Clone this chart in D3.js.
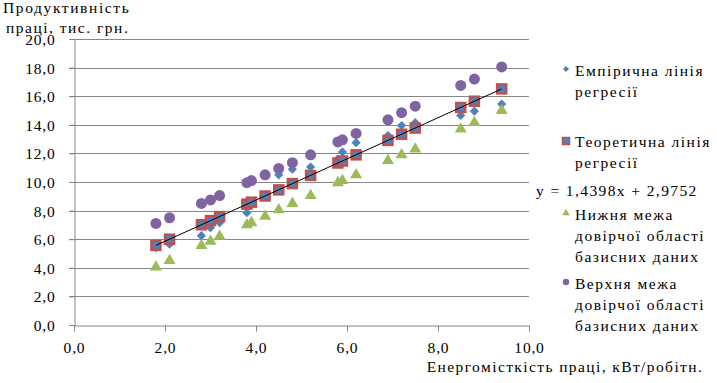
<!DOCTYPE html>
<html>
<head>
<meta charset="utf-8">
<script src="https://cdn.jsdelivr.net/npm/d3@7"></script>
<style>
  body { margin: 0; background: #fff; }
</style>
</head>
<body>
<svg id="chart" width="717" height="383"></svg>
<script>
// energy intensity (x) and the four series
var xValues = [1.8, 2.1, 2.8, 3.0, 3.2, 3.8, 3.9, 4.2, 4.5, 4.8, 5.2, 5.8, 5.9, 6.2, 6.9, 7.2, 7.5, 8.5, 8.8, 9.4];
var empirical = [5.4, 5.65, 6.25, 6.8, 7.15, 7.85, 8.6, 9.1, 10.5, 10.9, 11.05, 11.6, 12.1, 12.75, 13.25, 13.95, 14.15, 14.65, 14.95, 15.45];
var theoretical = [5.57, 6.0, 7.01, 7.3, 7.58, 8.45, 8.59, 9.02, 9.45, 9.89, 10.46, 11.33, 11.47, 11.9, 12.91, 13.34, 13.77, 15.21, 15.65, 16.51];
var lowerBound = [4.05, 4.5, 5.55, 5.85, 6.2, 7.0, 7.15, 7.6, 8.05, 8.5, 9.05, 9.95, 10.1, 10.5, 11.5, 11.9, 12.3, 13.7, 14.15, 15.0];
var upperBound = [7.1, 7.5, 8.5, 8.75, 9.05, 9.95, 10.1, 10.5, 10.95, 11.35, 11.9, 12.8, 12.95, 13.4, 14.35, 14.85, 15.3, 16.75, 17.2, 18.05];

var xTicks = [0, 2, 4, 6, 8, 10];
var yTicks = [0, 2, 4, 6, 8, 10, 12, 14, 16, 18, 20];
var equationLabel = "y = 1,4398x + 2,9752";

var FONT = "'Liberation Serif', 'Times New Roman', serif";

var svg = d3.select("#chart");

var x = d3.scaleLinear().domain([0, 10]).range([74, 529]);
var y = d3.scaleLinear().domain([0, 20]).range([325, 39]);
var fmt = function(d) { return d3.format(".1f")(d).replace(".", ","); };

function label(sel, size, spacing) {
  return sel.attr("font-family", FONT)
    .style("font-family", FONT)
    .style("font-size", size + "px")
    .style("letter-spacing", spacing + "px")
    .attr("fill", "#000");
}

/////////////
// grid + axes
/////////////
var gridColor = "#878787";

svg.append("g").selectAll("line")
  .data(yTicks.filter(function(d) { return d > 0; }))
  .enter().append("line")
  .attr("x1", 69).attr("x2", 529)
  .attr("y1", function(d) { return Math.round(y(d)) + 0.5; })
  .attr("y2", function(d) { return Math.round(y(d)) + 0.5; })
  .attr("stroke", gridColor).attr("stroke-width", 1);

var yAxis = svg.append("g")
  .attr("transform", "translate(" + (x(0) + 0.5) + ",0)")
  .call(d3.axisLeft(y).tickValues(yTicks).tickSize(5).tickFormat(fmt));
var xAxis = svg.append("g")
  .attr("transform", "translate(0," + (Math.round(y(0)) + 0.5) + ")")
  .call(d3.axisBottom(x).tickValues(xTicks).tickSize(6).tickFormat(fmt));

[xAxis, yAxis].forEach(function(ax) {
  ax.attr("font-family", FONT);
  ax.select(".domain").attr("stroke", gridColor);
  ax.selectAll(".tick line").attr("stroke", gridColor);
  label(ax.selectAll("text"), 15.5, 0.8);
});
yAxis.selectAll("text").attr("x", -19).attr("dy", "0.35em");
xAxis.selectAll("text").attr("y", 16).attr("dy", "0.71em");

// axis titles
label(svg.append("text").attr("x", 3).attr("y", 13), 15.5, 1.6)
  .text("Продуктивність");
label(svg.append("text").attr("x", 6).attr("y", 33), 15.5, 1.5)
  .text("праці, тис. грн.");
label(svg.append("text").attr("x", 565).attr("y", 372).attr("text-anchor", "middle"), 15.5, 1.4)
  .text("Енергомісткість праці, кВт/робітн.");

/////////////
// series
/////////////
var pts = function(vals) {
  return vals.map(function(v, i) { return { x: xValues[i], y: v }; });
};

svg.append("g").selectAll("path")
  .data(pts(empirical)).enter().append("path")
  .attr("d", d3.symbol().type(d3.symbolDiamond2).size(54))
  .attr("transform", function(d) { return "translate(" + x(d.x) + "," + y(d.y) + ")"; })
  .attr("fill", "#4F81BD");

svg.append("g").selectAll("rect")
  .data(pts(theoretical)).enter().append("rect")
  .attr("x", function(d) { return x(d.x) - 4.5; })
  .attr("y", function(d) { return y(d.y) - 4.5; })
  .attr("width", 9).attr("height", 9)
  .attr("fill", "#4F81BD")
  .attr("stroke", "#C0504D").attr("stroke-width", 2.5);

svg.append("g").selectAll("path")
  .data(pts(lowerBound)).enter().append("path")
  .attr("d", d3.symbol().type(d3.symbolTriangle).size(62))
  .attr("transform", function(d) { return "translate(" + x(d.x) + "," + y(d.y) + ")"; })
  .attr("fill", "#9BBB59");

svg.append("g").selectAll("circle")
  .data(pts(upperBound)).enter().append("circle")
  .attr("cx", function(d) { return x(d.x); })
  .attr("cy", function(d) { return y(d.y); })
  .attr("r", 5.5)
  .attr("fill", "#8064A2");

// linear trend over the theoretical series
var line = d3.line()
  .x(function(d) { return x(d.x); })
  .y(function(d) { return y(d.y); });
var tp = pts(theoretical);
svg.append("path")
  .datum([tp[0], tp[tp.length - 1]])
  .attr("d", line)
  .attr("fill", "none")
  .attr("stroke", "#000").attr("stroke-width", 1);

/////////////
// legend
/////////////
var legend = [
  { lines: ["Емпірична лінія", "регресії"], y: 76, my: 69, type: "diamond" },
  { lines: ["Теоретична лінія", "регресії"], y: 147, my: 141, type: "square" },
  { lines: ["Нижня межа", "довірчої області", "базисних даних"], y: 220, my: 213, type: "triangle" },
  { lines: ["Верхня межа", "довірчої області", "базисних даних"], y: 289, my: 282, type: "circle" }
];

legend.forEach(function(item) {
  var g = svg.append("g");
  if (item.type === "diamond") {
    g.append("path").attr("d", d3.symbol().type(d3.symbolDiamond2).size(24))
      .attr("transform", "translate(566," + item.my + ")").attr("fill", "#4F81BD");
  } else if (item.type === "square") {
    g.append("rect").attr("x", 562.5).attr("y", item.my - 3.5).attr("width", 7).attr("height", 7)
      .attr("fill", "#4F81BD").attr("stroke", "#C0504D").attr("stroke-width", 1.5);
  } else if (item.type === "triangle") {
    g.append("path").attr("d", d3.symbol().type(d3.symbolTriangle).size(24))
      .attr("transform", "translate(566," + item.my + ")").attr("fill", "#9BBB59");
  } else {
    g.append("circle").attr("cx", 566).attr("cy", item.my).attr("r", 3.2).attr("fill", "#8064A2");
  }
  item.lines.forEach(function(t, i) {
    label(g.append("text").attr("x", 575).attr("y", item.y + i * 21), 15.5, 1.5)
      .text(t);
  });
});

label(svg.append("text").attr("x", 536).attr("y", 196), 15.5, 1.4)
  .text(equationLabel);
</script>
</body>
</html>
